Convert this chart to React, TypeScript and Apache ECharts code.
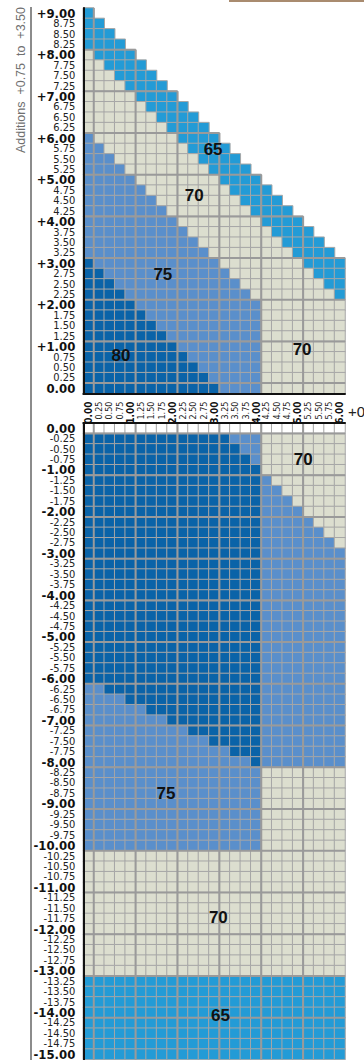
import React, { useEffect, useRef } from "react";
import * as echarts from "echarts";

// ---- categories ----
const X_LABELS = [
  "0.00", "0.25", "0.50", "0.75", "1.00", "1.25", "1.50", "1.75", "2.00", "2.25", "2.50", "2.75", "3.00",
  "3.25", "3.50", "3.75", "4.00", "4.25", "4.50", "4.75", "5.00", "5.25", "5.50", "5.75", "6.00",
];

// top panel, listed from the top row (+9.00) down to 0.00
const TOP_LABELS = [
  "+9.00", "8.75", "8.50", "8.25", "+8.00", "7.75", "7.50", "7.25", "+7.00", "6.75", "6.50", "6.25",
  "+6.00", "5.75", "5.50", "5.25", "+5.00", "4.75", "4.50", "4.25", "+4.00", "3.75", "3.50", "3.25",
  "+3.00", "2.75", "2.50", "2.25", "+2.00", "1.75", "1.50", "1.25", "+1.00", "0.75", "0.50", "0.25", "0.00",
];

// bottom panel, listed from 0.00 (top) down to -15.00
const BOTTOM_LABELS = [
  "0.00", "-0.25", "-0.50", "-0.75", "-1.00", "-1.25", "-1.50", "-1.75", "-2.00", "-2.25", "-2.50", "-2.75",
  "-3.00", "-3.25", "-3.50", "-3.75", "-4.00", "-4.25", "-4.50", "-4.75", "-5.00", "-5.25", "-5.50", "-5.75",
  "-6.00", "-6.25", "-6.50", "-6.75", "-7.00", "-7.25", "-7.50", "-7.75", "-8.00", "-8.25", "-8.50", "-8.75",
  "-9.00", "-9.25", "-9.50", "-9.75", "-10.00", "-10.25", "-10.50", "-10.75", "-11.00", "-11.25", "-11.50",
  "-11.75", "-12.00", "-12.25", "-12.50", "-12.75", "-13.00", "-13.25", "-13.50", "-13.75", "-14.00",
  "-14.25", "-14.50", "-14.75", "-15.00",
];

// ---- cell values (run-length rows: B=65, G=70, M=75, D=80, W=blank) ----
const TOP_ROWS = [
  "B1", "B2", "B3", "B4", "G1 B4", "G2 B4", "G3 B4", "G4 B4", "G5 B4", "G6 B4", "G7 B4", "G8 B4",
  "M1 G8 B4", "M2 G8 B4", "M3 G8 B4", "M4 G8 B4", "M5 G8 B4", "M6 G8 B4", "M7 G8 B4", "M8 G8 B4",
  "M9 G8 B4", "M10 G8 B4", "M11 G8 B4", "M12 G8 B4",
  "D1 M12 G8 B4", "D2 M12 G8 B3", "D3 M12 G8 B2", "D4 M12 G8 B1",
  "D5 M12 G8", "D6 M11 G8", "D7 M10 G8", "D8 M9 G8", "D9 M8 G8", "D10 M7 G8", "D11 M6 G8", "D12 M5 G8",
  "D13 M4 G8",
];

const BOTTOM_ROWS = [
  "W25",
  "D14 M3 G8", "D15 M2 G8", "D16 M1 G8", "D17 G8",
  "D17 M1 G7", "D17 M2 G6", "D17 M3 G5", "D17 M4 G4",
  "D17 M5 G3", "D17 M6 G2", "D17 M7 G1", "D17 M8",
  "D17 M8", "D17 M8", "D17 M8", "D17 M8", "D17 M8", "D17 M8",
  "D17 M8", "D17 M8", "D17 M8", "D17 M8", "D17 M8", "D17 M8",
  "M2 D15 M8", "M4 D13 M8", "M6 D11 M8", "M8 D9 M8", "M10 D7 M8", "M12 D5 M8", "M14 D3 M8", "M16 D1 M8",
  "M17 G8", "M17 G8", "M17 G8", "M17 G8", "M17 G8", "M17 G8", "M17 G8", "M17 G8",
  "G25", "G25", "G25", "G25", "G25", "G25", "G25", "G25", "G25", "G25", "G25", "G25",
  "B25", "B25", "B25", "B25", "B25", "B25", "B25", "B25",
];

const CODE_VALUE: Record<string, number> = { B: 65, G: 70, M: 75, D: 80, W: 0 };

// zone labels: panel, column index, row index (category index on that panel's y axis)
const NOTE_TEXT = ["65", "70", "75", "80", "70", "70", "75", "70", "65"];
const NOTE_PANEL = [0, 0, 0, 0, 0, 1, 1, 1, 1];
const NOTE_COL = [11.9, 10.1, 7.1, 3.1, 20.4, 20.5, 7.4, 12.4, 12.6];
const NOTE_ROW = [22.9, 18.5, 10.9, 3.1, 3.7, 3.0, 35.0, 46.85, 56.3];

// grid-group separators (every whole unit)
const COL_BREAKS = [0, 4, 8, 12, 16, 20];
const TOP_ROW_BREAKS = [0, 4, 8, 12, 16, 20, 24, 28, 32];
const BOTTOM_ROW_BREAKS = [0, 4, 8, 12, 16, 20, 24, 28, 32, 36, 40, 44, 48, 52, 56];

const NARROW = '"Liberation Sans Narrow", "DejaVu Sans Condensed", "Arial Narrow", sans-serif';
const SANS = '"Liberation Sans", Arial, sans-serif';
const THICK = "#9a9a9a";

function expand(rle: string): string {
  return rle
    .split(" ")
    .map((t) => t[0].repeat(parseInt(t.slice(1), 10)))
    .join("");
}

const topExpanded = TOP_ROWS.map(expand);
const bottomExpanded = BOTTOM_ROWS.map(expand);

function buildCells(rows: string[], rowIndex: (i: number) => number) {
  const out: number[][] = [];
  rows.forEach((s, i) => {
    for (let c = 0; c < s.length; c++) out.push([c, rowIndex(i), CODE_VALUE[s[c]]]);
  });
  return out;
}

export default function App() {
  const ref = useRef<HTMLDivElement>(null);

  useEffect(() => {
    if (!ref.current) return;
    const chart = echarts.init(ref.current, null, { renderer: "svg" });

    const nTop = TOP_ROWS.length;
    const topCells = buildCells(topExpanded, (i) => nTop - 1 - i);
    const bottomCells = buildCells(bottomExpanded, (i) => i);
    const topYCats = TOP_LABELS.slice().reverse();

    const topH = TOP_ROW_BREAKS.map((r) => [0, r, topExpanded[nTop - 1 - r].length - 1]);
    const topV = COL_BREAKS.map((c) => {
      let maxR = 0;
      topCells.forEach((d) => {
        if (d[0] === c && d[1] > maxR) maxR = d[1];
      });
      return [c, 0, maxR];
    });
    const bottomH = BOTTOM_ROW_BREAKS.map((k) => [0, k, bottomExpanded[k].length - 1]);
    const bottomV = COL_BREAKS.map((c) => [c, 0, BOTTOM_ROWS.length - 1]);

    const hRender = (_p: any, api: any) => {
      const p0 = api.coord([0, 0]);
      const p1 = api.coord([1, 1]);
      const dx = p1[0] - p0[0];
      const dy = p1[1] - p0[1];
      const c0 = api.value(0);
      const r = api.value(1);
      const c1 = api.value(2);
      const y = p0[1] + (r + 0.5) * dy;
      return {
        type: "line",
        shape: { x1: p0[0] + (c0 - 0.5) * dx, y1: y, x2: p0[0] + (c1 + 0.5) * dx, y2: y },
        style: { stroke: THICK, lineWidth: 2 },
      };
    };
    const vRender = (_p: any, api: any) => {
      const p0 = api.coord([0, 0]);
      const p1 = api.coord([1, 1]);
      const dx = p1[0] - p0[0];
      const dy = p1[1] - p0[1];
      const c = api.value(0);
      const r0 = api.value(1);
      const r1 = api.value(2);
      const x = p0[0] + (c + 0.5) * dx;
      return {
        type: "line",
        shape: { x1: x, y1: p0[1] + (r0 - 0.5) * dy, x2: x, y2: p0[1] + (r1 + 0.5) * dy },
        style: { stroke: THICK, lineWidth: 2 },
      };
    };

    const labelFmt = (v: string) => (v.endsWith(".00") ? `{b|${v}}` : `{n|${v}}`);
    const yRich = {
      b: { fontFamily: NARROW, fontWeight: "bold", fontSize: 13, lineHeight: 10, color: "#111" },
      n: { fontFamily: NARROW, fontSize: 11, lineHeight: 10, color: "#222" },
    };
    const xRich = {
      b: { fontFamily: NARROW, fontWeight: "bold", fontSize: 10, lineHeight: 8, color: "#111" },
      n: { fontFamily: NARROW, fontSize: 9, lineHeight: 8, color: "#222" },
    };
    const blackLine = { show: true, lineStyle: { color: "#111", width: 2 } };

    chart.setOption({
      animation: false,
      grid: [
        { left: 83.3, right: 19, top: 8, height: 385.5, containLabel: false, outerBoundsMode: "none" },
        { left: 83.3, right: 19, top: 423, height: 636.5, containLabel: false, outerBoundsMode: "none" },
      ],
      xAxis: [
        {
          type: "category",
          gridIndex: 0,
          data: X_LABELS,
          position: "bottom",
          z: 10,
          axisLine: blackLine,
          axisTick: { show: false },
          splitLine: { show: false },
          axisLabel: { interval: 0, rotate: 90, margin: 8, formatter: labelFmt, rich: xRich },
        },
        {
          type: "category",
          gridIndex: 1,
          data: X_LABELS,
          position: "top",
          z: 10,
          axisLine: blackLine,
          axisTick: { show: false },
          splitLine: { show: false },
          axisLabel: { show: false },
        },
      ],
      yAxis: [
        {
          type: "category",
          gridIndex: 0,
          data: topYCats,
          z: 10,
          axisLine: blackLine,
          axisTick: { show: false },
          splitLine: { show: false },
          axisLabel: { interval: 0, margin: 8, formatter: labelFmt, rich: yRich },
        },
        {
          type: "category",
          gridIndex: 1,
          data: BOTTOM_LABELS,
          inverse: true,
          z: 10,
          axisLine: blackLine,
          axisTick: { show: false },
          splitLine: { show: false },
          axisLabel: { interval: 0, margin: 8, formatter: labelFmt, rich: yRich },
        },
      ],
      visualMap: {
        type: "piecewise",
        show: false,
        dimension: 2,
        seriesIndex: [0, 1],
        pieces: [
          { value: 0, color: "#ffffff" },
          { value: 65, color: "#239bd6" },
          { value: 70, color: "#dcdecf" },
          { value: 75, color: "#5a8fcb" },
          { value: 80, color: "#0a63a8" },
        ],
      },
      series: [
        {
          type: "heatmap",
          xAxisIndex: 0,
          yAxisIndex: 0,
          data: topCells,
          itemStyle: { borderColor: "#a6a6a6", borderWidth: 1 },
          emphasis: { disabled: true },
        },
        {
          type: "heatmap",
          xAxisIndex: 1,
          yAxisIndex: 1,
          data: bottomCells,
          itemStyle: { borderColor: "#a6a6a6", borderWidth: 1 },
          emphasis: { disabled: true },
        },
        { type: "custom", xAxisIndex: 0, yAxisIndex: 0, data: topH, renderItem: hRender, z: 5, silent: true },
        { type: "custom", xAxisIndex: 0, yAxisIndex: 0, data: topV, renderItem: vRender, z: 5, silent: true },
        { type: "custom", xAxisIndex: 1, yAxisIndex: 1, data: bottomH, renderItem: hRender, z: 5, silent: true },
        { type: "custom", xAxisIndex: 1, yAxisIndex: 1, data: bottomV, renderItem: vRender, z: 5, silent: true },
      ],
    });

    const place = (panel: number, col: number, row: number) => {
      const a = chart.convertToPixel({ xAxisIndex: panel, yAxisIndex: panel }, [0, 0]) as number[];
      const b = chart.convertToPixel({ xAxisIndex: panel, yAxisIndex: panel }, [1, 1]) as number[];
      return [a[0] + col * (b[0] - a[0]), a[1] + row * (b[1] - a[1])];
    };

    const notes = NOTE_TEXT.map((t, i) => {
      const p = place(NOTE_PANEL[i], NOTE_COL[i], NOTE_ROW[i]);
      return {
        type: "text",
        x: p[0],
        y: p[1],
        z: 20,
        style: {
          text: t,
          fontFamily: SANS,
          fontWeight: "bold",
          fontSize: 17,
          fill: "#111",
          align: "center",
          verticalAlign: "middle",
        },
      };
    });

    chart.setOption({
      graphic: {
        elements: [
          {
            type: "text",
            x: 21,
            y: 80,
            rotation: Math.PI / 2,
            style: {
              text: "Additions  +0.75  to  +3.50",
              fontFamily: SANS,
              fontSize: 12.5,
              fill: "#707070",
              align: "center",
              verticalAlign: "middle",
            },
          },
          {
            type: "line",
            shape: { x1: 31, y1: 7, x2: 31, y2: 1060 },
            style: { stroke: "#8c8c8c", lineWidth: 2 },
          },
          {
            type: "rect",
            shape: { x: 229, y: 0, width: 140, height: 2 },
            style: { fill: "#a98b6f" },
          },
          {
            type: "text",
            x: 348,
            y: 411,
            style: {
              text: "+0.00",
              fontFamily: SANS,
              fontSize: 15,
              fill: "#222",
              align: "left",
              verticalAlign: "middle",
            },
          },
          ...notes,
        ],
      },
    });

    return () => chart.dispose();
  }, []);

  return (
    <div
      ref={ref}
      style={{ position: "absolute", left: 0, top: 0, width: 364, height: 1060 }}
    />
  );
}
